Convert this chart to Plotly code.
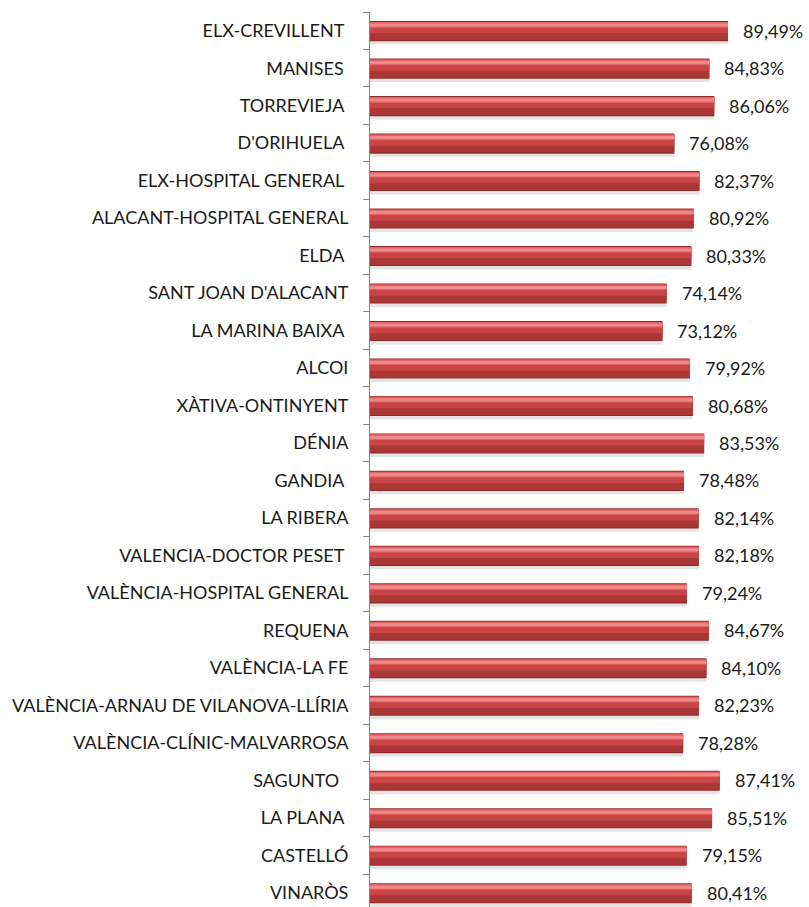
import plotly.graph_objects as go

NB = "\u00a0"
categories = [
    "ELX-CREVILLENT" + NB, "MANISES" + NB, "TORREVIEJA" + NB, "D'ORIHUELA" + NB,
    "ELX-HOSPITAL GENERAL" + NB, "ALACANT-HOSPITAL GENERAL", "ELDA" + NB,
    "SANT JOAN D'ALACANT", "LA MARINA BAIXA" + NB, "ALCOI", "XÀTIVA-ONTINYENT",
    "DÉNIA", "GANDIA" + NB, "LA RIBERA", "VALENCIA-DOCTOR PESET" + NB,
    "VALÈNCIA-HOSPITAL GENERAL", "REQUENA", "VALÈNCIA-LA FE",
    "VALÈNCIA-ARNAU DE VILANOVA-LLÍRIA", "VALÈNCIA-CLÍNIC-MALVARROSA",
    "SAGUNTO" + NB + NB, "LA PLANA" + NB, "CASTELLÓ", "VINARÒS",
]
values = [89.49, 84.83, 86.06, 76.08, 82.37, 80.92, 80.33, 74.14, 73.12, 79.92,
          80.68, 83.53, 78.48, 82.14, 82.18, 79.24, 84.67, 84.10, 82.23, 78.28,
          87.41, 85.51, 79.15, 80.41]
value_labels = [f"{v:.2f}".replace(".", ",") + "%" for v in values]

FONT = "Lato"
FSIZE = 18
fig = go.Figure()

# layered bars to imitate the cylinder look
layers = [
    # (offset, width, color)
    (-0.18, 0.55, "#e4e4e4"),    # soft shadow
    (-0.257, 0.536, "#8f2a2a"),  # outline
    (-0.231, 0.483, "#ab3636"),  # lower body
    (-0.231, 0.30, "#c94444"),   # upper body
    (-0.231, 0.15, "#e06262"),   # light band
    (-0.19, 0.08, "#f08a8a"),    # highlight
]
for off, w, col in layers:
    fig.add_trace(go.Bar(
        y=categories, x=values, orientation="h",
        offset=off, width=w,
        marker=dict(color=col, line=dict(width=0)),
        hoverinfo="skip", showlegend=False,
    ))

for cat, v, lab in zip(categories, values, value_labels):
    fig.add_annotation(x=v, y=cat, text=lab, showarrow=False,
                       xanchor="left", xshift=13, yshift=0,
                       font=dict(family=FONT, size=FSIZE, color="#1a1a1a"))

fig.update_layout(
    width=809, height=907,
    margin=dict(l=370, r=39, t=12, b=0),
    paper_bgcolor="white", plot_bgcolor="white",
    barmode="overlay",
    xaxis=dict(range=[0, 100], visible=False),
    yaxis=dict(
        type="category",
        categoryorder="array", categoryarray=categories,
        range=[23.38, -0.5],
        showline=True, linecolor="#868686", linewidth=1,
        ticks="outside", ticklen=6, tickcolor="#868686", tickson="boundaries",
        ticklabelstandoff=17,
        showgrid=False, zeroline=False, automargin=False,
        tickfont=dict(family=FONT, size=FSIZE, color="#1a1a1a"),
    ),
)
fig.write_html("out.html",
               config={"displayModeBar": False},
               post_script="document.body.style.margin='0';document.body.style.overflow='hidden';")
